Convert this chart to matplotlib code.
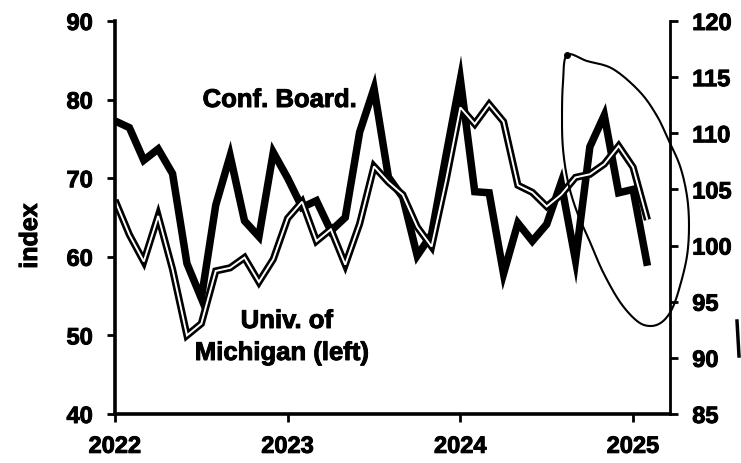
import numpy as np
import matplotlib
matplotlib.use("Agg")
import matplotlib.pyplot as plt
import matplotlib.patheffects as pe
from matplotlib.lines import Line2D

plt.rcParams['font.family'] = ['Liberation Sans', 'DejaVu Sans']
plt.rcParams['font.weight'] = 'bold'

# monthly, Jan 2022 .. Feb 2025
start_year = 2022
conf_board = [111.1, 110.5, 107.6, 108.6, 106.4, 98.4, 95.3, 103.6, 108.0, 102.2, 100.8, 108.3,
              106.0, 103.4, 104.0, 101.3, 102.5, 110.1, 114.0, 106.1, 104.3, 99.1, 101.0, 108.0,
              114.8, 104.8, 104.7, 97.5, 102.0, 100.4, 101.9, 105.6, 98.7, 108.8, 111.6, 104.7,
              105.0, 98.2]
michigan = [67.2, 62.8, 59.4, 65.2, 58.4, 50.0, 51.5, 58.2, 58.6, 59.9, 56.8, 59.7,
            64.9, 67.0, 62.0, 63.5, 59.0, 64.2, 71.5, 69.5, 67.9, 63.8, 61.3, 69.7,
            79.0, 76.9, 79.4, 77.2, 69.1, 68.2, 66.4, 67.9, 70.1, 70.5, 71.8, 74.1,
            71.4, 64.7]
year_ticks = [2022, 2023, 2024, 2025]
left_ticks = [40, 50, 60, 70, 80, 90]
right_ticks = [85, 90, 95, 100, 105, 110, 115, 120]

x = start_year + np.arange(len(michigan)) / 12.0

W, H = 741, 464
fig = plt.figure(figsize=(W / 100, H / 100), dpi=100)
ax = fig.add_axes([115 / W, 1 - 415 / H, 555 / W, 393 / H])
ax2 = ax.twinx()
ax.set_zorder(ax2.get_zorder() + 1)
ax.patch.set_visible(False)

ax2.plot(x, conf_board, color='black', lw=5.4, solid_joinstyle='miter', solid_capstyle='butt')
ax.plot(x, michigan, color='black', lw=5.2, solid_joinstyle='miter', solid_capstyle='butt')
ax.plot(x, michigan, color='white', lw=1.4, solid_joinstyle='miter', solid_capstyle='butt')

ax.set_xlim(2022, 2025.214)
ax.set_ylim(40, 90)
ax2.set_ylim(85, 120)
ax.set_xticks(year_ticks)
ax.set_yticks(left_ticks)
ax2.set_yticks(right_ticks)

for a in (ax, ax2):
    a.spines['top'].set_visible(False)
ax.spines['left'].set_linewidth(2.6)
ax.spines['bottom'].set_linewidth(2.6)
ax2.spines['right'].set_linewidth(2.0)
ax2.spines['left'].set_visible(False)
ax2.spines['bottom'].set_visible(False)
ax.spines['right'].set_visible(False)

heavy = [pe.withStroke(linewidth=0.7, foreground='black')]
ax.tick_params(axis='y', direction='out', length=6, width=2, pad=10, labelsize=17)
ax.tick_params(axis='x', direction='out', length=6, width=2, pad=9, labelsize=17)
ax2.tick_params(axis='y', direction='out', length=6, width=2, pad=10, labelsize=17)
for lab in ax.get_xticklabels() + ax.get_yticklabels() + ax2.get_yticklabels():
    lab.set_fontweight('bold')
    lab.set_path_effects(heavy)

fig.text(30 / W, 1 - 237 / H, 'index', rotation=90, ha='center', va='center',
         fontsize=18, fontweight='bold', path_effects=heavy)
fig.text(280 / W, 1 - 101 / H, 'Conf. Board.', ha='center', va='center',
         fontsize=18.5, fontweight='bold', path_effects=heavy)
fig.text(287 / W, 1 - 322 / H, 'Univ. of', ha='center', va='center',
         fontsize=18.5, fontweight='bold', path_effects=heavy)
fig.text(282 / W, 1 - 354 / H, 'Michigan (left)', ha='center', va='center',
         fontsize=18.5, fontweight='bold', path_effects=heavy)

# hand-drawn loop around the latest months (pixel positions, smoothed)
loop = np.array([(567, 56), (587, 62), (613, 70), (640, 93), (657, 117), (668, 140),
                 (680, 167), (687, 197), (689, 227), (687, 257), (680, 287), (672, 310),
                 (662, 323), (650, 327), (637, 322), (620, 303), (603, 273), (590, 243),
                 (577, 213), (568, 183), (563, 150), (562, 117), (563, 83)], float)
n = len(loop)
pts = []
for i in range(n):
    p0, p1, p2, p3 = loop[i - 1], loop[i], loop[(i + 1) % n], loop[(i + 2) % n]
    for t in np.linspace(0, 1, 12, endpoint=False):
        pts.append(0.5 * (2 * p1 + (-p0 + p2) * t + (2 * p0 - 5 * p1 + 4 * p2 - p3) * t ** 2
                          + (-p0 + 3 * p1 - 3 * p2 + p3) * t ** 3))
pts.append(loop[0])
pts = np.array(pts)
fig.add_artist(Line2D(pts[:, 0] / W, 1 - pts[:, 1] / H, color='black', lw=1.5,
                      transform=fig.transFigure))
fig.add_artist(Line2D([567 / W], [1 - 56 / H], marker='o', ms=4, color='black',
                      transform=fig.transFigure))
fig.add_artist(Line2D([737 / W, 739 / W], [1 - 322 / H, 1 - 357 / H], color='black', lw=2.5,
                      transform=fig.transFigure))

fig.savefig('out.png', dpi=100)
